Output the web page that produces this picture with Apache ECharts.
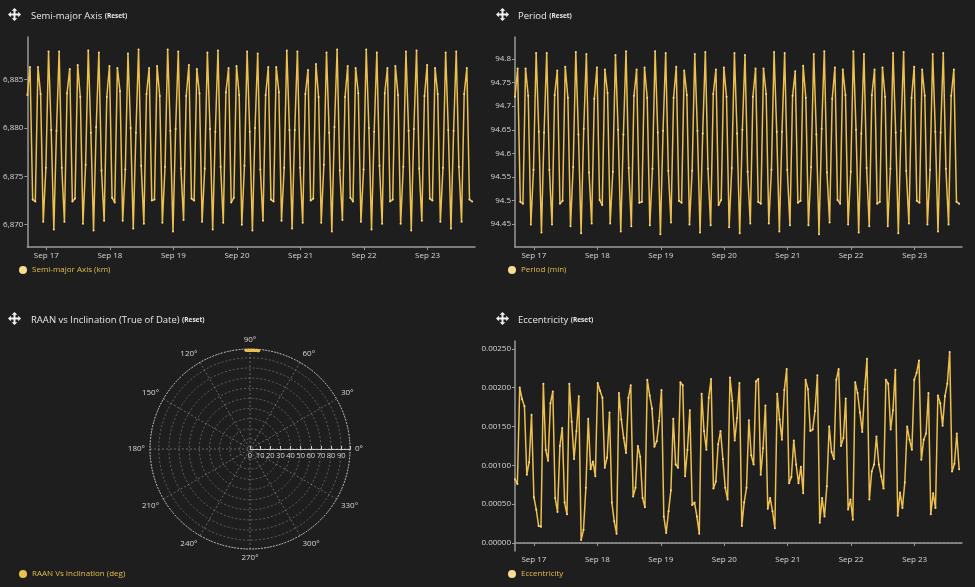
<!DOCTYPE html>
<html lang="en">
<head>
<meta charset="UTF-8">
<title>Orbit elements</title>
<script src="https://cdn.jsdelivr.net/npm/echarts@6/dist/echarts.min.js"></script>
<style>
    html, body { margin: 0; padding: 0; background: #1e1e1e; }
    #main { width: 975px; height: 587px; }
</style>
</head>
<body>
<div id="main"></div>
<script>
    // time range (hourly samples, UTC)
    var startTime = Date.UTC(2023, 8, 16, 16, 50);
    var spanHours = 168;
    var axisMin = startTime;
    var axisMax = Date.UTC(2023, 8, 23, 17, 55);
    var dayTicks = [17, 18, 19, 20, 21, 22, 23];

    var smaValues = [
        6883.4, 6886.3, 6872.6, 6872.4, 6886.3, 6883.5, 6870.3, 6875.9, 6887.9, 6879.8, 6869.5, 6879.7, 6887.9, 6875.9, 6870.3,
        6883.6, 6886.1, 6872.4, 6872.7, 6886.5, 6883.2, 6870.1, 6876.2, 6888.0, 6879.5, 6869.4, 6880.1, 6887.8, 6875.6, 6870.4,
        6883.2, 6886.4, 6872.8, 6872.3, 6886.2, 6883.8, 6870.4, 6875.7, 6887.7, 6880.0, 6869.6, 6879.5, 6888.1, 6876.1, 6870.1,
        6883.5, 6886.2, 6872.5, 6872.6, 6886.4, 6883.3, 6870.2, 6876.0, 6888.1, 6879.7, 6869.3, 6879.9, 6887.9, 6875.8, 6870.5,
        6883.3, 6886.5, 6872.7, 6872.5, 6886.1, 6883.6, 6870.3, 6875.8, 6887.8, 6879.9, 6869.5, 6879.6, 6888.0, 6876.0, 6870.2,
        6883.7, 6886.2, 6872.3, 6872.8, 6886.4, 6883.4, 6870.0, 6876.1, 6887.9, 6879.6, 6869.4, 6880.0, 6887.7, 6875.7, 6870.4,
        6883.4, 6886.3, 6872.6, 6872.4, 6886.3, 6883.7, 6870.4, 6875.9, 6888.0, 6879.8, 6869.6, 6879.8, 6887.9, 6875.9, 6870.2,
        6883.5, 6886.0, 6872.5, 6872.7, 6886.6, 6883.2, 6870.2, 6876.2, 6887.8, 6879.5, 6869.3, 6880.1, 6888.1, 6875.6, 6870.5,
        6883.2, 6886.4, 6872.8, 6872.4, 6886.2, 6883.6, 6870.3, 6875.7, 6888.1, 6880.0, 6869.5, 6879.6, 6887.8, 6876.1, 6870.1,
        6883.6, 6886.2, 6872.4, 6872.6, 6886.4, 6883.4, 6870.1, 6876.0, 6887.9, 6879.7, 6869.4, 6879.9, 6888.0, 6875.8, 6870.4,
        6883.3, 6886.5, 6872.7, 6872.5, 6886.2, 6883.5, 6870.3, 6875.9, 6887.8, 6879.8, 6869.6, 6879.7, 6887.9, 6876.0, 6870.3,
        6883.5, 6886.2, 6872.6, 6872.4
    ];

    var periodValues = [
        94.720, 94.780, 94.497, 94.493, 94.780, 94.722, 94.449, 94.565, 94.813, 94.646, 94.432, 94.644, 94.813, 94.565, 94.449,
        94.724, 94.776, 94.493, 94.499, 94.784, 94.718, 94.445, 94.571, 94.815, 94.640, 94.430, 94.652, 94.811, 94.559, 94.451,
        94.716, 94.782, 94.501, 94.490, 94.778, 94.728, 94.451, 94.561, 94.809, 94.650, 94.434, 94.640, 94.817, 94.569, 94.445,
        94.722, 94.778, 94.495, 94.497, 94.782, 94.718, 94.447, 94.567, 94.817, 94.644, 94.428, 94.648, 94.813, 94.563, 94.453,
        94.718, 94.784, 94.499, 94.495, 94.776, 94.724, 94.449, 94.563, 94.811, 94.648, 94.432, 94.642, 94.815, 94.567, 94.447,
        94.726, 94.778, 94.490, 94.501, 94.782, 94.720, 94.443, 94.569, 94.813, 94.642, 94.430, 94.650, 94.809, 94.561, 94.451,
        94.720, 94.780, 94.497, 94.493, 94.780, 94.726, 94.451, 94.565, 94.815, 94.646, 94.434, 94.646, 94.813, 94.565, 94.447,
        94.722, 94.774, 94.495, 94.499, 94.786, 94.718, 94.447, 94.571, 94.811, 94.640, 94.428, 94.652, 94.817, 94.559, 94.453,
        94.716, 94.782, 94.501, 94.493, 94.778, 94.724, 94.449, 94.561, 94.817, 94.650, 94.432, 94.642, 94.811, 94.569, 94.445,
        94.724, 94.778, 94.493, 94.497, 94.782, 94.720, 94.445, 94.567, 94.813, 94.644, 94.430, 94.648, 94.815, 94.563, 94.451,
        94.718, 94.784, 94.499, 94.495, 94.778, 94.722, 94.449, 94.565, 94.811, 94.646, 94.434, 94.644, 94.813, 94.567, 94.449,
        94.722, 94.778, 94.497, 94.493
    ];

    var eccValues = [
        0.00082, 0.00076, 0.00200, 0.00185, 0.00176, 0.00088, 0.00104, 0.00165, 0.00059, 0.00043, 0.00022, 0.00021,
        0.00205, 0.00120, 0.00106, 0.00180, 0.00195, 0.00058, 0.00040, 0.00125, 0.00148, 0.00052, 0.00037, 0.00205,
        0.00156, 0.00108, 0.00144, 0.00189, 0.00004, 0.00017, 0.00071, 0.00160, 0.00095, 0.00105, 0.00086, 0.00206,
        0.00196, 0.00187, 0.00097, 0.00110, 0.00168, 0.00052, 0.00028, 0.00012, 0.00193, 0.00159, 0.00135, 0.00116,
        0.00187, 0.00203, 0.00060, 0.00071, 0.00125, 0.00111, 0.00058, 0.00046, 0.00210, 0.00190, 0.00173, 0.00124,
        0.00131, 0.00157, 0.00197, 0.00034, 0.00013, 0.00041, 0.00068, 0.00160, 0.00101, 0.00097, 0.00207, 0.00203,
        0.00086, 0.00120, 0.00171, 0.00049, 0.00052, 0.00034, 0.00012, 0.00192, 0.00144, 0.00120, 0.00187, 0.00211,
        0.00070, 0.00079, 0.00127, 0.00144, 0.00108, 0.00071, 0.00056, 0.00213, 0.00183, 0.00132, 0.00161,
        0.00206, 0.00022, 0.00052, 0.00071, 0.00158, 0.00113, 0.00101, 0.00208, 0.00211, 0.00088, 0.00122, 0.00177,
        0.00044, 0.00058, 0.00041, 0.00019, 0.00192, 0.00159, 0.00133, 0.00197, 0.00224, 0.00077, 0.00085, 0.00132,
        0.00101, 0.00077, 0.00098, 0.00064, 0.00210, 0.00198, 0.00144, 0.00146, 0.00170, 0.00216, 0.00026, 0.00058,
        0.00034, 0.00073, 0.00150, 0.00117, 0.00108, 0.00210, 0.00224, 0.00125, 0.00135, 0.00186, 0.00043,
        0.00056, 0.00030, 0.00207, 0.00193, 0.00168, 0.00143, 0.00198, 0.00237, 0.00056, 0.00092, 0.00101, 0.00137,
        0.00101, 0.00086, 0.00070, 0.00210, 0.00205, 0.00146, 0.00171, 0.00223, 0.00035, 0.00065, 0.00045, 0.00078,
        0.00150, 0.00133, 0.00120, 0.00210, 0.00219, 0.00235, 0.00107, 0.00133, 0.00141, 0.00193, 0.00037, 0.00064,
        0.00045, 0.00190, 0.00180, 0.00151, 0.00189, 0.00205, 0.00246, 0.00092, 0.00102, 0.00141, 0.00095
    ];

    var raanValues = [84.9, 85.4, 85.9, 86.5, 87.0, 87.6, 88.1, 88.6, 89.2, 89.7, 90.2, 90.8, 91.3, 91.9, 92.4];
    var inclValues = [97.44, 97.41, 97.45, 97.42, 97.46, 97.43, 97.44, 97.41, 97.45, 97.42, 97.46, 97.43, 97.44, 97.41, 97.45];

    var smaTicks = [6870, 6875, 6880, 6885];
    var periodTicks = [94.45, 94.5, 94.55, 94.6, 94.65, 94.7, 94.75, 94.8];
    var eccTicks = [0, 0.0005, 0.001, 0.0015, 0.002, 0.0025];

    var lineColor = '#edc04e';
    var dotColor = '#f8dc90';
    var axisColor = '#9a9a9a';
    var labelColor = '#d8d8d8';
    var fontFamily = 'Open Sans';

    function timeSeries(values) {
        var step = spanHours * 3600 * 1000 / (values.length - 1);
        var out = [];
        for (var i = 0; i < values.length; i++) {
            out.push([startTime + i * step, values[i]]);
        }
        return out;
    }

    var dayValues = dayTicks.map(function (d) { return Date.UTC(2023, 8, d); });

    // x as plain value axis holding UTC ms, labels at midnights
    function makeX(gridIndex) {
        return {
            type: 'value',
            gridIndex: gridIndex,
            min: axisMin,
            max: axisMax,
            splitLine: { show: false },
            axisLine: { lineStyle: { color: axisColor, width: 1.5 } },
            axisTick: { show: true, length: 3, lineStyle: { color: axisColor }, customValues: dayValues },
            axisLabel: {
                color: labelColor,
                fontSize: 8,
                fontFamily: fontFamily,
                margin: 5,
                customValues: dayValues,
                formatter: function (value) {
                    return 'Sep ' + new Date(value).getUTCDate();
                }
            }
        };
    }

    function makeY(gridIndex, min, max, ticks, fmt) {
        return {
            type: 'value',
            gridIndex: gridIndex,
            min: min,
            max: max,
            splitLine: { show: false },
            axisLine: { show: true, lineStyle: { color: axisColor, width: 1.5 } },
            axisTick: { show: true, length: 3, lineStyle: { color: axisColor }, customValues: ticks },
            axisLabel: {
                color: labelColor,
                fontSize: 8,
                fontFamily: fontFamily,
                margin: 4,
                customValues: ticks,
                formatter: fmt
            }
        };
    }

    function makeLine(name, values, xi, yi) {
        return {
            name: name,
            type: 'line',
            xAxisIndex: xi,
            yAxisIndex: yi,
            data: timeSeries(values),
            symbol: 'circle',
            symbolSize: 2,
            showSymbol: true,
            lineStyle: { color: lineColor, width: 1.5 },
            itemStyle: { color: dotColor },
            emphasis: { disabled: true }
        };
    }

    function makeTitle(left, top, main) {
        return {
            left: left,
            top: top,
            text: '{a|' + main + ' }{b|(Reset)}',
            textStyle: {
                fontWeight: 'normal',
                rich: {
                    a: { fontSize: 9.5, fontWeight: 'normal', color: '#e8e8e8', fontFamily: fontFamily },
                    b: { fontSize: 6.5, fontWeight: 'bold', color: '#e8e8e8', fontFamily: fontFamily }
                }
            }
        };
    }

    function makeLegend(left, top, name) {
        return {
            left: left,
            top: top,
            data: [name],
            icon: 'circle',
            itemWidth: 8,
            itemHeight: 8,
            itemGap: 4,
            textStyle: { color: '#e6bf4e', fontSize: 8, fontFamily: fontFamily }
        };
    }

    // four-way move icon, drawn as a polygon on a 16x16 grid
    var moveShape = [[8, 0], [11.5, 3.5], [9.2, 3.5], [9.2, 6.8], [12.5, 6.8], [12.5, 4.5], [16, 8], [12.5, 11.5], [12.5, 9.2],
        [9.2, 9.2], [9.2, 12.5], [11.5, 12.5], [8, 16], [4.5, 12.5], [6.8, 12.5], [6.8, 9.2], [3.5, 9.2], [3.5, 11.5], [0, 8],
        [3.5, 4.5], [3.5, 6.8], [6.8, 6.8], [6.8, 3.5], [4.5, 3.5]];
    function makeIcon(cx, cy) {
        var s = 13 / 16;
        return {
            type: 'polygon',
            silent: true,
            shape: { points: moveShape.map(function (p) { return [cx - 6.5 + p[0] * s, cy - 6.5 + p[1] * s]; }) },
            style: { fill: '#f2f2f2' }
        };
    }

    var polarData = raanValues.map(function (a, i) { return [inclValues[i], a]; });

    var chart = echarts.init(document.getElementById('main'));
    var option = {
        backgroundColor: '#1e1e1e',
        animation: false,
        textStyle: { fontFamily: fontFamily },
        title: [
            makeTitle(26, 6, 'Semi-major Axis'),
            makeTitle(513, 6, 'Period'),
            makeTitle(26, 310, 'RAAN vs Inclination (True of Date)'),
            makeTitle(513, 310, 'Eccentricity')
        ],
        legend: [
            makeLegend(14, 261, 'Semi-major Axis (km)'),
            makeLegend(503, 261, 'Period (min)'),
            makeLegend(14, 565, 'RAAN Vs Inclination (deg)'),
            makeLegend(503, 565, 'Eccentricity')
        ],
        graphic: [
            makeIcon(14.5, 14.5),
            makeIcon(502.5, 14.5),
            makeIcon(14.5, 318.5),
            makeIcon(502.5, 318.5)
        ],
        grid: [
            { left: 27, top: 37, width: 448, height: 210 },
            { left: 515, top: 37, width: 447, height: 210 },
            { left: 515, top: 341, width: 447, height: 210 }
        ],
        xAxis: [makeX(0), makeX(1), makeX(2)],
        yAxis: [
            makeY(0, 6867.7, 6889.4, smaTicks, function (v) { return v.toLocaleString('en-US'); }),
            makeY(1, 94.401, 94.847, periodTicks, function (v) { return String(+v.toFixed(2)); }),
            makeY(2, -0.000103, 0.0026, eccTicks, function (v) { return v.toFixed(5); })
        ],
        polar: { center: [250, 449], radius: 100 },
        angleAxis: {
            type: 'value',
            min: 0,
            max: 360,
            interval: 30,
            startAngle: 0,
            clockwise: false,
            axisLine: { lineStyle: { color: '#d0d0d0', type: [1.5, 1.5], width: 1 } },
            axisTick: { show: false },
            axisLabel: {
                color: labelColor,
                fontSize: 8,
                margin: 5,
                formatter: function (v) { return v === 360 ? '' : v + '°'; }
            },
            splitLine: { show: true, lineStyle: { color: 'rgba(255,255,255,0.32)', type: [2, 2] } }
        },
        radiusAxis: {
            type: 'value',
            min: 0,
            max: 98.7,
            interval: 10,
            axisLine: { lineStyle: { color: '#cfcfcf' } },
            axisTick: { show: true, length: 3 },
            axisLabel: {
                color: labelColor,
                fontSize: 7.5,
                margin: -11,
                formatter: function (v) { return v > 90 ? '' : v; }
            },
            splitLine: { show: true, lineStyle: { color: 'rgba(255,255,255,0.28)', type: [2, 2] } }
        },
        series: [
            makeLine('Semi-major Axis (km)', smaValues, 0, 0),
            makeLine('Period (min)', periodValues, 1, 1),
            {
                name: 'RAAN Vs Inclination (deg)',
                type: 'line',
                coordinateSystem: 'polar',
                data: polarData,
                symbol: 'circle',
                symbolSize: 3,
                lineStyle: { color: lineColor, width: 3 },
                itemStyle: { color: lineColor },
                emphasis: { disabled: true }
            },
            Object.assign(makeLine('Eccentricity', eccValues, 2, 2), {
                markLine: {
                    silent: true,
                    symbol: ['none', 'none'],
                    label: { show: false },
                    lineStyle: { color: '#8a8a8a', type: [2, 2], width: 1 },
                    data: [{ yAxis: 0 }]
                }
            })
        ]
    };
    chart.setOption(option);
</script>
</body>
</html>
